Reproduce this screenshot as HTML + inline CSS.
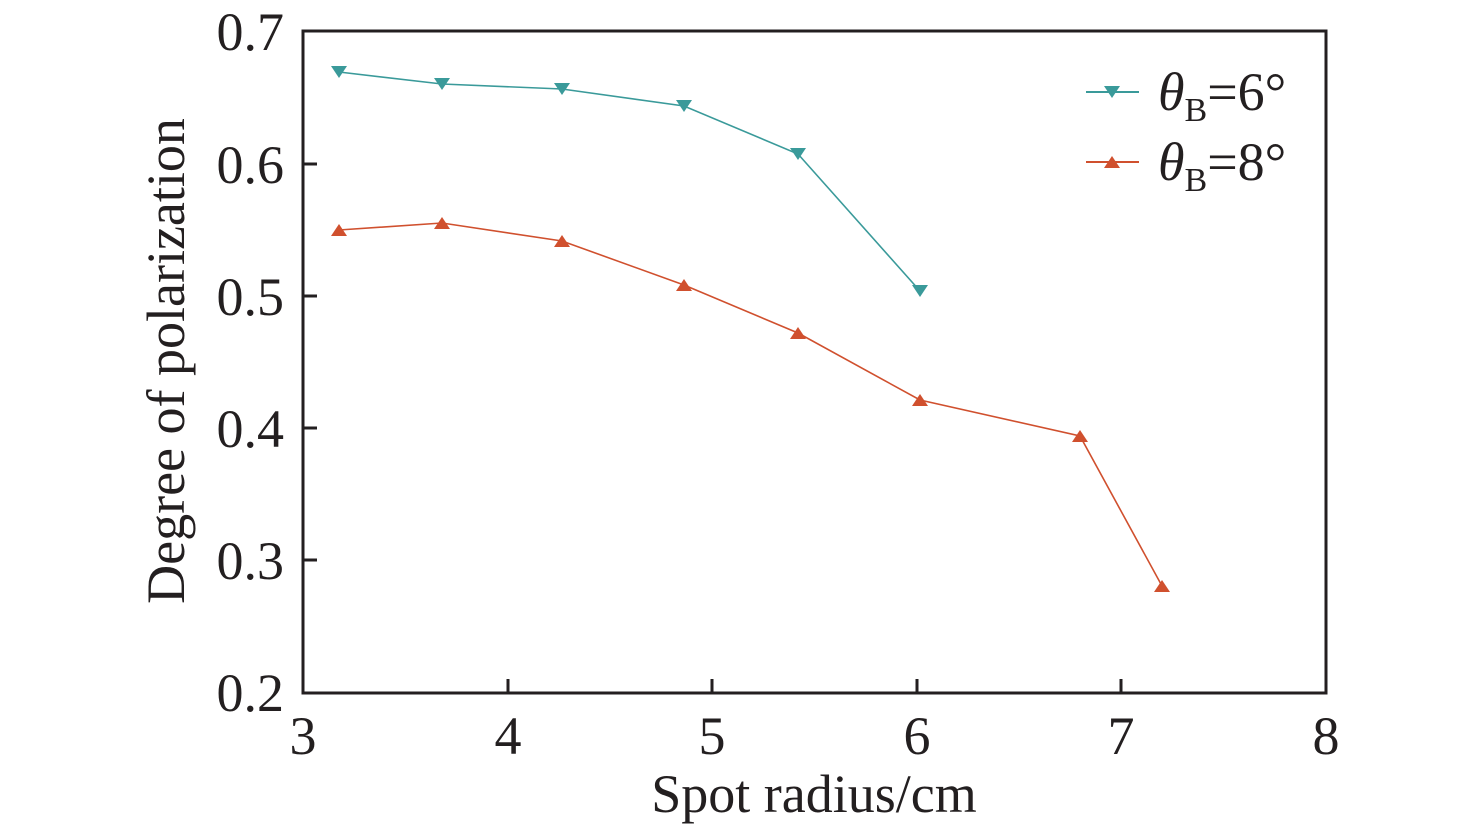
<!DOCTYPE html>
<html><head><style>body{margin:0;background:#fff}svg{display:block}</style></head><body>
<svg width="1476" height="829" viewBox="0 0 1476 829" xmlns="http://www.w3.org/2000/svg" font-family="Liberation Serif, serif" fill="#231f20">
<rect x="303" y="31" width="1023" height="662" fill="none" stroke="#231f20" stroke-width="3"/>
<g stroke="#231f20" stroke-width="3">
<line x1="508" y1="693" x2="508" y2="679"/><line x1="712" y1="693" x2="712" y2="679"/><line x1="917" y1="693" x2="917" y2="679"/><line x1="1121" y1="693" x2="1121" y2="679"/>
<line x1="303" y1="164" x2="317" y2="164"/><line x1="303" y1="296" x2="317" y2="296"/><line x1="303" y1="428" x2="317" y2="428"/><line x1="303" y1="560" x2="317" y2="560"/>
</g>
<g font-size="54" text-anchor="middle">
<text x="303" y="754">3</text><text x="508" y="754">4</text><text x="712" y="754">5</text><text x="917" y="754">6</text><text x="1121" y="754">7</text><text x="1326" y="754">8</text>
</g>
<g font-size="54" text-anchor="end">
<text x="284" y="50">0.7</text><text x="284" y="183">0.6</text><text x="284" y="315">0.5</text><text x="284" y="447">0.4</text><text x="284" y="579">0.3</text><text x="284" y="711">0.2</text>
</g>
<text x="814" y="812" font-size="54" text-anchor="middle">Spot radius/cm</text>
<text transform="translate(184,361) rotate(-90)" font-size="54" text-anchor="middle">Degree of polarization</text>
<polyline points="339,72 442,84 562,89 684,106 798,154 920,291" fill="none" stroke="#3a9a9a" stroke-width="1.6"/>
<polyline points="339,230 442,223 562,241 684,285 798,333 920,400 1080,436 1162,586" fill="none" stroke="#d0502e" stroke-width="1.6"/>
<g fill="#3a9a9a">
<path d="M331,66h16l-8,12z"/>
<path d="M434,78h16l-8,12z"/><path d="M554,83h16l-8,12z"/><path d="M676,100h16l-8,12z"/><path d="M790,148h16l-8,12z"/><path d="M912,285h16l-8,12z"/>
</g>
<g fill="#d0502e">
<path d="M331,236h16l-8,-12z"/><path d="M434,229h16l-8,-12z"/><path d="M554,247h16l-8,-12z"/><path d="M676,291h16l-8,-12z"/><path d="M790,339h16l-8,-12z"/><path d="M912,406h16l-8,-12z"/><path d="M1072,442h16l-8,-12z"/><path d="M1154,592h16l-8,-12z"/>
</g>
<line x1="1086" y1="92" x2="1139" y2="92" stroke="#3a9a9a" stroke-width="2"/>
<path d="M1104,86h16l-8,12z" fill="#3a9a9a"/>
<line x1="1086" y1="162" x2="1139" y2="162" stroke="#d0502e" stroke-width="2"/>
<path d="M1104,168h16l-8,-12z" fill="#d0502e"/>
<text x="1158" y="110" font-size="54"><tspan font-style="italic">θ</tspan><tspan font-size="34" dy="11">B</tspan><tspan dy="-11">=6°</tspan></text>
<text x="1158" y="180" font-size="54"><tspan font-style="italic">θ</tspan><tspan font-size="34" dy="11">B</tspan><tspan dy="-11">=8°</tspan></text>
</svg>
</body></html>
